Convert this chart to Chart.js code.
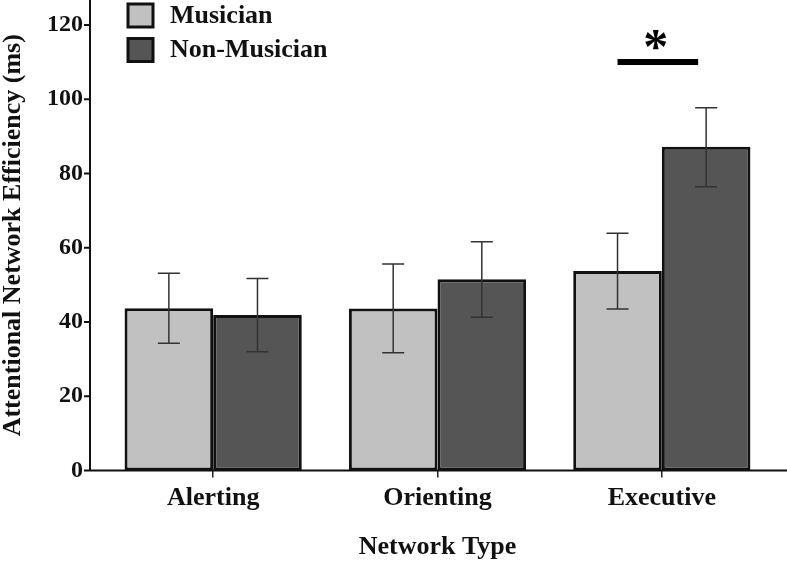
<!DOCTYPE html>
<html>
<head>
<meta charset="utf-8">
<script src="https://cdn.jsdelivr.net/npm/chart.js@4"></script>
<style>
  html, body { margin: 0; padding: 0; background: #fff; }
  #box { width: 787px; height: 563px; }
</style>
</head>
<body>
<div id="box"><canvas id="graph"></canvas></div>
<script>
// données
const categories = ['Alerting', 'Orienting', 'Executive'];
const musicien = [43.7, 43.6, 53.7];
const musicienBas = [34.3, 31.7, 43.5];
const musicienHaut = [53.1, 55.6, 63.9];
const nonMusicien = [41.9, 51.5, 87.2];
const nonMusicienBas = [32.0, 41.3, 76.4];
const nonMusicienHaut = [51.7, 61.6, 97.7];
const yTicks = [0, 20, 40, 60, 80, 100, 120];
const yMax = 126.7;
// barre de significativité : catégorie et hauteur
const sigIndex = 2;
const sigValeur = 110;
const sigTexte = '*';

const police = "'Liberation Serif', 'Times New Roman', serif";

// axes, barres d'erreur, légende et étoile
const deco = {
  id: 'deco',
  afterDatasetsDraw(chart) {
    const ctx = chart.ctx;
    const y = chart.scales.y;
    const area = chart.chartArea;
    const gauche = area.left - 11;
    ctx.save();

    // barres d'erreur
    ctx.strokeStyle = '#333';
    ctx.lineWidth = 1.5;
    chart.data.datasets.forEach((ds, i) => {
      chart.getDatasetMeta(i).data.forEach((bar, j) => {
        const haut = y.getPixelForValue(ds.errHaut[j]);
        const bas = y.getPixelForValue(ds.errBas[j]);
        ctx.beginPath();
        ctx.moveTo(bar.x, haut); ctx.lineTo(bar.x, bas);
        ctx.moveTo(bar.x - 11, haut); ctx.lineTo(bar.x + 11, haut);
        ctx.moveTo(bar.x - 11, bas); ctx.lineTo(bar.x + 11, bas);
        ctx.stroke();
      });
    });

    // axes
    ctx.strokeStyle = '#111';
    ctx.lineWidth = 2;
    ctx.beginPath();
    ctx.moveTo(gauche, 0); ctx.lineTo(gauche, area.bottom);
    ctx.lineTo(chart.width, area.bottom);
    yTicks.forEach(v => {
      const py = y.getPixelForValue(v);
      ctx.moveTo(gauche - 6, py); ctx.lineTo(gauche, py);
    });
    ctx.stroke();

    // légende
    ctx.font = 'bold 26px ' + police;
    ctx.textBaseline = 'middle';
    ctx.textAlign = 'left';
    chart.data.datasets.forEach((ds, i) => {
      const bx = area.left + 27, by = 4 + i * 34.5;
      ctx.fillStyle = ds.backgroundColor;
      ctx.fillRect(bx, by, 25, 23);
      ctx.lineWidth = 3;
      ctx.strokeStyle = '#111';
      ctx.strokeRect(bx, by, 25, 23);
      ctx.fillStyle = '#111';
      ctx.fillText(ds.label, bx + 42, by + 12);
    });

    // significativité
    const x1 = chart.getDatasetMeta(0).data[sigIndex].x;
    const x2 = chart.getDatasetMeta(1).data[sigIndex].x - 8;
    const py = y.getPixelForValue(sigValeur);
    ctx.fillStyle = '#000';
    ctx.fillRect(x1, py - 3, x2 - x1, 6);
    ctx.font = 'bold 50px ' + police;
    ctx.textAlign = 'center';
    ctx.textBaseline = 'alphabetic';
    ctx.fillText(sigTexte, (x1 + x2) / 2 - 2, py + 1);
    ctx.restore();
  }
};

new Chart(document.getElementById('graph').getContext('2d'), {
  type: 'bar',
  data: {
    labels: categories,
    datasets: [
      {
        label: 'Musician',
        data: musicien,
        errBas: musicienBas,
        errHaut: musicienHaut,
        backgroundColor: '#c1c1c1',
        borderColor: '#111',
        borderWidth: 3,
        borderSkipped: false
      },
      {
        label: 'Non-Musician',
        data: nonMusicien,
        errBas: nonMusicienBas,
        errHaut: nonMusicienHaut,
        backgroundColor: '#555555',
        borderColor: '#111',
        borderWidth: 3,
        borderSkipped: false
      }
    ]
  },
  options: {
    responsive: true,
    maintainAspectRatio: false,
    animation: false,
    categoryPercentage: 0.79,
    barPercentage: 1,
    layout: { padding: { left: 0, right: 13, top: 0, bottom: 0 } },
    plugins: {
      legend: { display: false },
      tooltip: { enabled: false }
    },
    scales: {
      x: {
        offset: true,
        border: { display: false },
        grid: { drawOnChartArea: false, drawTicks: true, tickLength: 7, offset: false, color: '#222', lineWidth: 1.5 },
        ticks: { color: '#111', padding: 5, font: { family: police, size: 26, weight: 'bold' } },
        title: {
          display: true,
          text: 'Network Type',
          color: '#111',
          padding: 0,
          font: { family: police, size: 26, weight: 'bold' }
        },
        afterFit: s => { s.height = 92.5; s.paddingLeft = 0; s.paddingRight = 0; }
      },
      y: {
        min: 0,
        max: yMax,
        border: { display: false },
        grid: { display: false, drawTicks: false },
        afterBuildTicks: s => { s.ticks = yTicks.map(v => ({ value: v })); },
        ticks: { color: '#111', padding: 18, font: { family: police, size: 24, weight: 'bold' } },
        title: {
          display: true,
          text: 'Attentional Network Efficiency (ms)',
          color: '#111',
          padding: 0,
          font: { family: police, size: 26, weight: 'bold', lineHeight: 1 }
        },
        afterFit: s => { s.width = 101; s.paddingTop = 0; s.paddingBottom = 0; }
      }
    }
  },
  plugins: [deco]
});
</script>
</body>
</html>
